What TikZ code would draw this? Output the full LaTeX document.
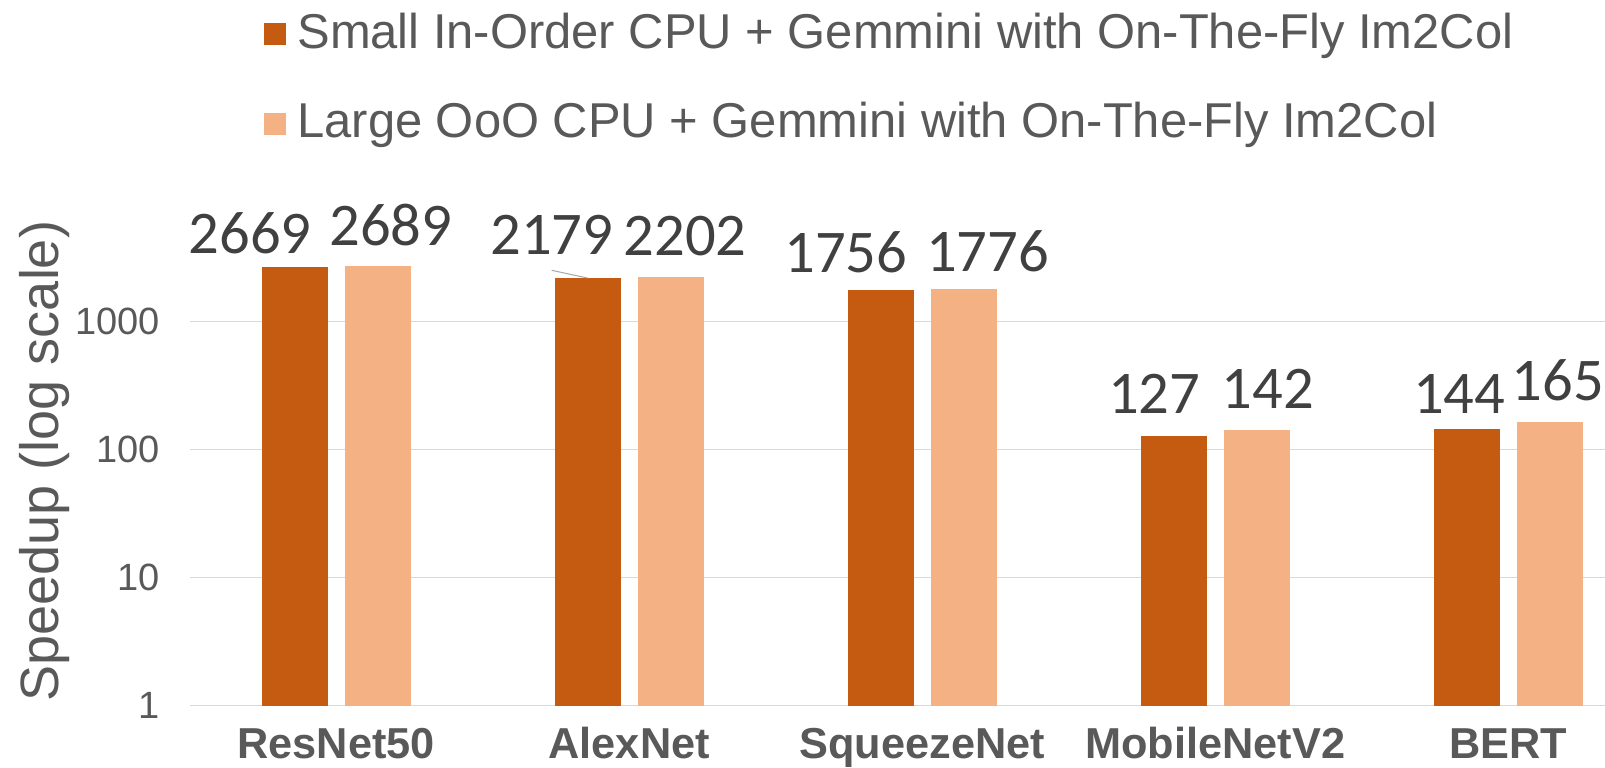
\documentclass[tikz,border=0pt]{standalone}
\usepackage{fontspec}
\setmainfont{Liberation Sans}
\newfontfamily\valuefont{Carlito}
\definecolor{barDark}{HTML}{C55A11}
\definecolor{barLight}{HTML}{F4B183}
\definecolor{axisText}{HTML}{595959}
\definecolor{valueText}{HTML}{404040}
\definecolor{gridGray}{HTML}{D9D9D9}
\definecolor{leaderGray}{HTML}{A6A6A6}

\begin{document}
\begin{tikzpicture}[x=0.5pt,y=-0.5pt,
  gridline/.style={draw=gridGray,line width=0.75pt},
  darkbar/.style={fill=barDark},
  lightbar/.style={fill=barLight},
  valuelabel/.style={font=\valuefont\fontsize{30.3}{30.3}\selectfont,text=valueText,inner sep=0pt,anchor=base},
  ticklabel/.style={font=\fontsize{19}{19}\selectfont,text=axisText,inner sep=0pt,anchor=east},
  catlabel/.style={font=\bfseries\fontsize{21.65}{21.65}\selectfont,text=axisText,inner sep=0pt,anchor=base},
  legendtext/.style={font=\fontsize{24.45}{24.45}\selectfont,text=axisText,inner sep=0pt,anchor=base west},
  legendkey/.style={inner sep=0pt,minimum size=10.85pt,draw=none},
  axistitle/.style={font=\fontsize{27}{27}\selectfont,text=axisText,inner sep=0pt,anchor=base,rotate=90},
  leader/.style={draw=leaderGray,line width=0.5pt}]

\useasboundingbox (0,0) rectangle (1605,767);
\fill[white] (0,0) rectangle (1605,767);

% legend
\node[legendkey,fill=barDark] (key1) at (274.85,34.15) {};
\node[legendtext] (leg1) at (297,48) {Small In-Order CPU + Gemmini with On-The-Fly Im2Col};
\node[legendkey,fill=barLight] (key2) at (274.85,124.15) {};
\node[legendtext] (leg2) at (297,137) {Large OoO CPU + Gemmini with On-The-Fly Im2Col};

% horizontal gridlines (log scale, one per decade) and tick labels
\foreach \k/\lab in {0/1,1/10,2/100,3/1000}{
  \draw[gridline] (190,{705.7-128.1*\k}) -- (1605,{705.7-128.1*\k});
  \node[ticklabel] (tick\k) at (160.5,{705.7-128.1*\k}) {\lab};
}

% axis title
\node[axistitle] (ytitle) at (58.7,461) {Speedup (log scale)};

% bars
\foreach \i/\a/\b in {0/2669/2689,1/2179/2202,2/1756/1776,3/127/142,4/144/165}{
  \pgfmathsetmacro{\cx}{336.2+293*\i}
  \pgfmathsetmacro{\ya}{705.7-128.1*log10(\a)}
  \pgfmathsetmacro{\yb}{705.7-128.1*log10(\b)}
  \fill[darkbar] (\cx-74.5,705.7) rectangle (\cx-8.5,\ya);
  \fill[lightbar] (\cx+9,705.7) rectangle (\cx+74.5,\yb);
  \coordinate (dtop\i) at (\cx-41.5,\ya);
  \coordinate (ltop\i) at (\cx+41.75,\yb);
}

% category labels
\foreach \i/\name in {0/ResNet50,1/AlexNet,2/SqueezeNet,3/MobileNetV2,4/BERT}{
  \node[catlabel] (cat\i) at ({336.2+293*\i},758) {\name};
}

% value labels
\node[valuelabel] (v2669) at (250,253.3) {2669};
\node[valuelabel] (v2689) at (390.8,245) {2689};
\node[valuelabel] (v2179) at (551.7,254.3) {2179};
\node[valuelabel] (v2202) at (685,255) {2202};
\node[valuelabel] (v1756) at (845.8,272.7) {1756};
\node[valuelabel] (v1776) at (987.5,271.7) {1776};
\node[valuelabel] (v127) at (1154.2,413.3) {127};
\node[valuelabel] (v142) at (1268,408.3) {142};
\node[valuelabel] (v144) at (1459.3,413.3) {144};
\node[valuelabel] (v165) at (1558,400) {165};

% leader line from a displaced label to its bar
\draw[leader] ([yshift=-8pt]v2179.base) -- (dtop1);
\end{tikzpicture}
\end{document}
